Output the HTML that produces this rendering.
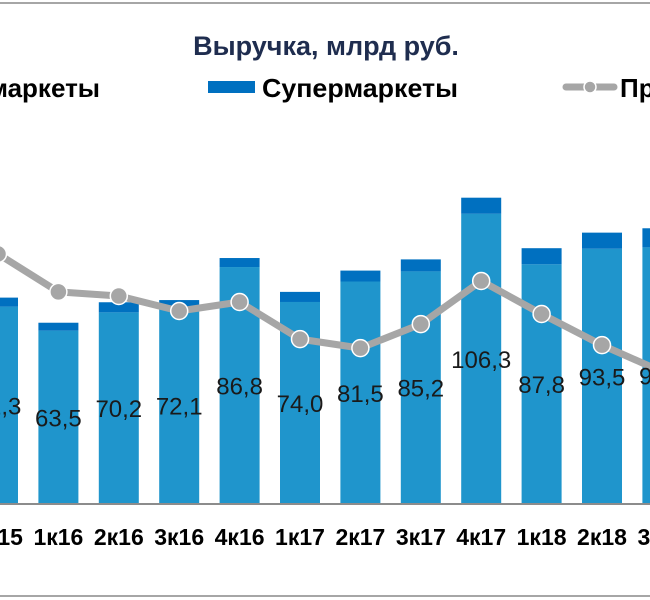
<!DOCTYPE html>
<html><head><meta charset="utf-8"><style>
html,body{margin:0;padding:0;background:#fff;}
svg{display:block;font-family:"Liberation Sans",Arial,sans-serif;}
</style></head><body>
<svg id="chart" width="650" height="600" viewBox="0 0 650 600">
<line x1="0" y1="3" x2="650" y2="3" stroke="#a6a6a6" stroke-width="2"/>
<line x1="0" y1="596" x2="650" y2="596" stroke="#a6a6a6" stroke-width="2"/>
<text x="326" y="55" text-anchor="middle" font-size="27" font-weight="bold" fill="#1f2d4f">Выручка, млрд руб.</text>
<g>
<text x="100" y="97" text-anchor="end" font-size="26" font-weight="bold" fill="#000">Гипермаркеты</text>
<rect x="208" y="81" width="47" height="12" fill="#0070c0"/>
<text x="262" y="97" font-size="26" font-weight="bold" fill="#000" textLength="196" lengthAdjust="spacingAndGlyphs">Супермаркеты</text>
<line x1="566" y1="87" x2="614" y2="87" stroke="#a6a6a6" stroke-width="7" stroke-linecap="round"/>
<circle cx="590" cy="87" r="6" fill="#a6a6a6" stroke="#fff" stroke-width="1.5"/>
<text x="620" y="97" font-size="26" font-weight="bold" fill="#000">Продажи</text>
</g>
<g id="bars"></g>
<line x1="0" y1="504" x2="650" y2="504" stroke="#8c8c8c" stroke-width="2"/>
<g id="line"></g>
<g id="labels"></g>
</svg>
<script>
const categories = ["4к15","1к16","2к16","3к16","4к16","1к17","2к17","3к17","4к17","1к18","2к18","3к18"];
const hyperValues = [72.3,63.5,70.2,72.1,86.8,74.0,81.5,85.2,106.3,87.8,93.5,94.0];
const superValues = [3.3,2.9,3.7,2.6,3.3,3.7,4.0,4.4,5.9,5.9,5.9,7.0];
const lineValues = [91.6,77.7,76.2,70.7,74.0,60.4,57.1,65.9,81.7,69.6,58.2,48.4];
const labelTexts = ["72,3","63,5","70,2","72,1","86,8","74,0","81,5","85,2","106,3","87,8","93,5","94,0"];

const NS = "http://www.w3.org/2000/svg";
const baseY = 504, k = 2.73, x0 = -2, step = 60.4, bw = 40;
const xPos = i => x0 + step * i;
const yPos = v => baseY - v * k;
function mk(tag, attrs, parent) {
  const el = document.createElementNS(NS, tag);
  for (const a in attrs) el.setAttribute(a, attrs[a]);
  parent.appendChild(el);
  return el;
}
const gb = document.getElementById("bars");
const gl = document.getElementById("line");
const gt = document.getElementById("labels");
categories.forEach((c, i) => {
  const cx = xPos(i);
  const yh = yPos(hyperValues[i]);
  const r1 = mk("rect", {x: cx - bw/2, y: yh, width: bw, height: baseY - yh, fill: "#1f95cc"}, gb);
  
  
  const ys = yPos(hyperValues[i] + superValues[i]);
  const r2 = mk("rect", {x: cx - bw/2, y: ys, width: bw, height: yh - ys, fill: "#0070c0"}, gb);
  
  
  const t = mk("text", {x: cx, y: (yh + baseY) / 2 + 9, "text-anchor": "middle", "font-size": "24", fill: "#1a1a1a"}, gt);
  t.textContent = labelTexts[i];
  
  
  const xl = mk("text", {x: cx, y: 545, "text-anchor": "middle", "font-size": "23", "font-weight": "bold", fill: "#000"}, gt);
  xl.textContent = c;
  
  
});
const pts = lineValues.map((v, i) => xPos(i) + "," + yPos(v)).join(" ");
const pl = mk("polyline", {points: pts, fill: "none", stroke: "#a6a6a6", "stroke-width": "7", "stroke-linejoin": "round"}, gl);


lineValues.forEach((v, i) => {
  const c = mk("circle", {cx: xPos(i), cy: yPos(v), r: 8.5, fill: "#a6a6a6", stroke: "#fff", "stroke-width": "1.5"}, gl);
  
  
});
</script>
</body></html>
